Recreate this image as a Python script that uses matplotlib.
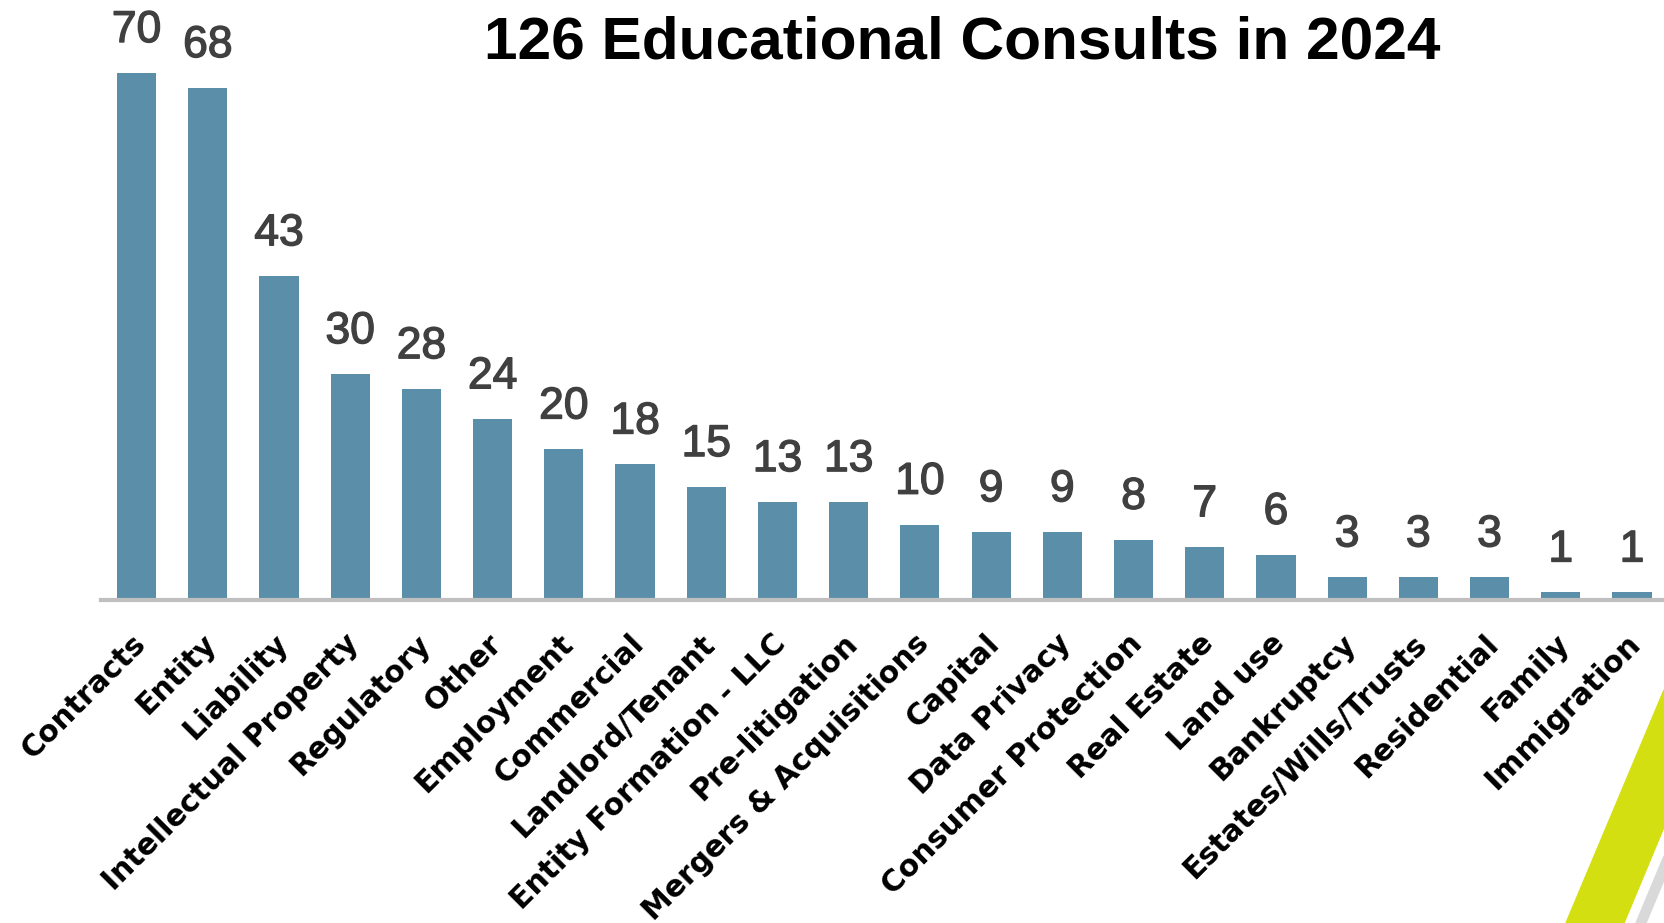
import numpy as np
import matplotlib.pyplot as plt
import matplotlib.patheffects as pe
from matplotlib.patches import Polygon

#--- DATA ---#

categories = ["Contracts", "Entity", "Liability", "Intellectual Property", "Regulatory",
              "Other", "Employment", "Commercial", "Landlord/Tenant",
              "Entity Formation - LLC", "Pre-litigation", "Mergers & Acquisitions",
              "Capital", "Data Privacy", "Consumer Protection", "Real Estate",
              "Land use", "Bankruptcy", "Estates/Wills/Trusts", "Residential",
              "Family", "Immigration"]
counts = [70, 68, 43, 30, 28, 24, 20, 18, 15, 13, 13, 10, 9, 9, 8, 7, 6, 3, 3, 3, 1, 1]
title = "126 Educational Consults in 2024"

#--- STYLE ---#

bar_col = "#5B8EA8"
label_col = "#404040"
axis_col = "#BFBFBF"

W, H = 1664, 923
fig = plt.figure(figsize=(W/100, H/100), dpi=100)
ax = fig.add_axes([101/W, 323/H, 1 - 101/W, 527/H])

x = np.arange(len(categories))
ax.bar(x, counts, width=0.55, color=bar_col, zorder=2)

# value labels (medium weight: regular font with a thin stroke)
for xi, v in zip(x, counts):
    ax.annotate(str(v), xy=(xi, v), xytext=(0, 22), textcoords="offset pixels",
                ha="center", va="bottom", fontsize=32, color=label_col,
                family="Liberation Sans", annotation_clip=False,
                path_effects=[pe.withStroke(linewidth=1.0, foreground=label_col)])

# rotated category labels
for xi, lab in zip(x, categories):
    ax.annotate(lab, xy=(xi, 0), xytext=(-6, -29), textcoords="offset pixels",
                ha="right", va="top", rotation=45, rotation_mode="anchor",
                fontsize=21.5, fontweight="bold", color="black", family="DejaVu Sans",
                annotation_clip=False)

ax.set_xlim(-0.5, 21.45)
ax.set_ylim(0, 70)
ax.set_xticks([])
ax.set_yticks([])
for s in ["top", "right", "left"]:
    ax.spines[s].set_visible(False)
ax.spines["bottom"].set_color(axis_col)
ax.spines["bottom"].set_linewidth(3)

fig.text(962/W, 1 - 43/H, title, ha="center", va="center", fontsize=43.5,
         fontweight="bold", family="Liberation Sans", color="black")

# decorative stripes bottom right
def px(pts):
    return [(a/W, 1 - b/H) for a, b in pts]

fig.patches.append(Polygon(px([(1566, 923), (1624, 923), (1664, 827), (1664, 690)]),
                           closed=True, color="#D4DF12", transform=fig.transFigure))
fig.patches.append(Polygon(px([(1636, 923), (1646, 923), (1664, 880), (1664, 856)]),
                           closed=True, color="#D9D9D9", transform=fig.transFigure))

plt.savefig("out.png", dpi=100)
